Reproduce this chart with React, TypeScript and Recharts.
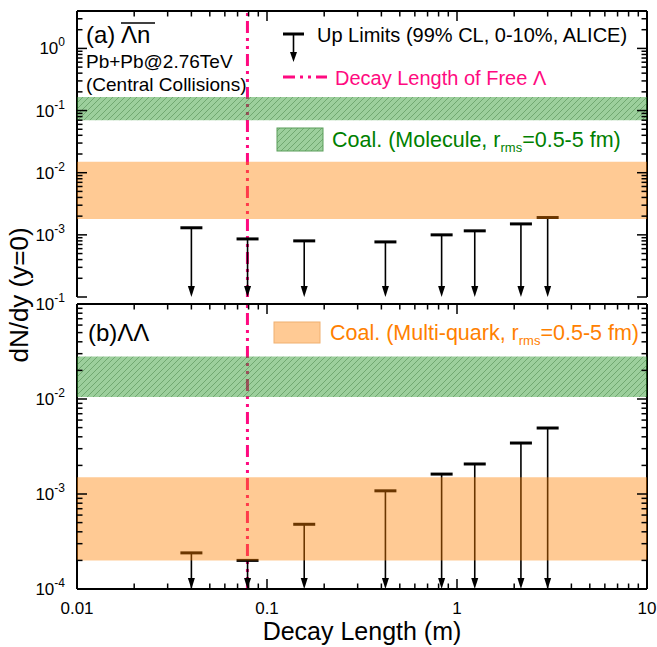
import React from 'react';
import {
  ComposedChart,
  Scatter,
  XAxis,
  YAxis,
  ReferenceArea,
  ReferenceLine,
} from 'recharts';

// decay lengths (m) where the ALICE upper limits were quoted
const decayLengths = [0.04, 0.079, 0.157, 0.42, 0.83, 1.24, 2.17, 3.0];
// 99% CL upper limits on dN/dy, anti-Lambda n (a) and Lambda Lambda (b)
const antiLambdaNLimits = [0.0013, 0.00086, 0.0008, 0.00077, 0.001, 0.00116, 0.0015, 0.0019];
const lambdaLambdaLimits = [0.00024, 0.0002, 0.00048, 0.00108, 0.00162, 0.00207, 0.00344, 0.00495];
const freeLambdaDecay = 0.0789;

// coalescence predictions, r_rms = 0.5-5 fm
const moleculeBandA = [0.07, 0.165];
const multiQuarkBandA = [0.0018, 0.015];
const moleculeBandB = [0.0105, 0.028];
const multiQuarkBandB = [0.0002, 0.0015];

const xDomain = [0.01, 10];
const yDomainA = [1e-4, 4];
const yDomainB = [1e-4, 0.1];
const xDecades = [0.01, 0.1, 1, 10];
const xTickLabels = ['0.01', '0.1', '1', '10'];
const yDecadesA = [1e-4, 1e-3, 1e-2, 1e-1, 1];
const yExponentsA = ['', '-3', '-2', '-1', '0'];
const yDecadesB = [1e-4, 1e-3, 1e-2, 1e-1];
const yExponentsB = ['-4', '-3', '-2', '-1'];

const FONT = "'Liberation Sans', Arial, Helvetica, sans-serif";
const PINK = '#ff0a80';
const GREEN_TEXT = '#008000';
const ORANGE = '#ff8000';
const axisStyle = { stroke: '#000', strokeWidth: 2 };

const logTicks = (decades: number[], max: number) => {
  const out: number[] = [];
  decades.forEach((d) => {
    for (let k = 1; k <= 9; k++) {
      const v = Number((k * d).toPrecision(6));
      if (v <= max * 1.0001) out.push(v);
    }
  });
  return out;
};

const xTicks = logTicks(xDecades, xDomain[1]);
const yTicksA = logTicks(yDecadesA, yDomainA[1]);
const yTicksB = logTicks(yDecadesB, yDomainB[1]);

const isDecade = (v: number) =>
  Math.abs(Math.log10(v) - Math.round(Math.log10(v))) < 1e-6;

const findLabel = (v: number, decades?: number[], labels?: string[]) => {
  if (!decades || !labels) return '';
  const i = decades.findIndex((d) => Math.abs(d - v) / d < 1e-6);
  return i >= 0 ? labels[i] : '';
};

type Side = 'left' | 'right' | 'top' | 'bottom';

const makeTick =
  (side: Side, decades?: number[], labels?: string[]) =>
  // eslint-disable-next-line
  (props: any) => {
    const { x, y, payload } = props;
    const v = payload.value;
    const len = isDecade(v) ? 10 : 5.5;
    let x2 = x;
    let y2 = y;
    if (side === 'left') x2 = x + len;
    if (side === 'right') x2 = x - len;
    if (side === 'top') y2 = y + len;
    if (side === 'bottom') y2 = y - len;
    const label = findLabel(v, decades, labels);
    return (
      <g>
        <line x1={x} y1={y} x2={x2} y2={y2} stroke="#000" strokeWidth={1.5} />
        {label && side === 'left' && (
          <text x={x - 12} y={y + 6} textAnchor="end" fontSize={17} fontFamily={FONT} fill="#000">
            10
            <tspan dy={-8} fontSize={12}>
              {label}
            </tspan>
          </text>
        )}
        {label && side === 'bottom' && (
          <text x={x} y={y + 25} textAnchor="middle" fontSize={17} fontFamily={FONT} fill="#000">
            {label}
          </text>
        )}
      </g>
    );
  };

// eslint-disable-next-line
const LimitCap = (props: any) => {
  const { cx, cy } = props;
  return <line x1={cx - 11} y1={cy} x2={cx + 11} y2={cy} stroke="#000" strokeWidth={3} />;
};

// eslint-disable-next-line
const LimitStem = (props: any) => {
  const { x1, y1, y2 } = props;
  return (
    <g>
      <line x1={x1} y1={y2} x2={x1} y2={y1 - 8} stroke="#000" strokeWidth={1.6} />
      <polygon points={`${x1 - 3.5},${y1 - 11} ${x1 + 3.5},${y1 - 11} ${x1},${y1}`} fill="#000" />
    </g>
  );
};

const NoMark = () => <g />;

const Panel = ({
  limits,
  yDomain,
  yTicks,
  yDecades,
  yExponents,
  moleculeBand,
  multiQuarkBand,
  height,
  margin,
  xAxisHeight,
  showXLabels,
}: {
  limits: number[];
  yDomain: number[];
  yTicks: number[];
  yDecades: number[];
  yExponents: string[];
  moleculeBand: number[];
  multiQuarkBand: number[];
  height: number;
  margin: { top: number; right: number; bottom: number; left: number };
  xAxisHeight: number;
  showXLabels: boolean;
}) => {
  const data = decayLengths.map((x, i) => ({ x, y: limits[i] }));
  return (
    <ComposedChart width={657} height={height} margin={margin} data={data}>
      <XAxis
        dataKey="x"
        type="number"
        scale="log"
        domain={xDomain}
        allowDataOverflow
        ticks={xTicks}
        interval={0}
        tickSize={0}
        tickMargin={0}
        tickLine={false}
        axisLine={axisStyle}
        height={xAxisHeight}
        tick={showXLabels ? makeTick('bottom', xDecades, xTickLabels) : makeTick('bottom')}
      />
      <XAxis
        xAxisId="top"
        orientation="top"
        dataKey="x"
        type="number"
        scale="log"
        domain={xDomain}
        allowDataOverflow
        ticks={xTicks}
        interval={0}
        tickSize={0}
        tickMargin={0}
        tickLine={false}
        axisLine={axisStyle}
        height={1}
        tick={makeTick('top')}
      />
      <YAxis
        type="number"
        scale="log"
        domain={yDomain}
        allowDataOverflow
        ticks={yTicks}
        interval={0}
        tickSize={0}
        tickMargin={0}
        tickLine={false}
        axisLine={axisStyle}
        width={77}
        tick={makeTick('left', yDecades, yExponents)}
      />
      <YAxis
        yAxisId="right"
        orientation="right"
        type="number"
        scale="log"
        domain={yDomain}
        allowDataOverflow
        ticks={yTicks}
        interval={0}
        tickSize={0}
        tickMargin={0}
        tickLine={false}
        axisLine={axisStyle}
        width={1}
        tick={makeTick('right')}
      />
      <ReferenceLine
        x={freeLambdaDecay}
        stroke={PINK}
        strokeWidth={3}
        strokeDasharray="12 5 3 5 3 5"
      />
      {data.map((d) => (
        <ReferenceLine
          key={d.x}
          segment={[
            { x: d.x, y: yDomain[0] },
            { x: d.x, y: d.y },
          ]}
          ifOverflow="visible"
          shape={LimitStem}
        />
      ))}
      <Scatter dataKey="y" isAnimationActive={false} shape={LimitCap} />
      <Scatter
        xAxisId="top"
        yAxisId="right"
        dataKey="y"
        isAnimationActive={false}
        shape={NoMark}
      />
      <ReferenceArea
        y1={moleculeBand[0]}
        y2={moleculeBand[1]}
        fill="url(#hatchGreen)"
        fillOpacity={1}
        stroke="none"
        zIndex={1500}
      />
      <ReferenceArea
        y1={multiQuarkBand[0]}
        y2={multiQuarkBand[1]}
        fill={ORANGE}
        fillOpacity={0.42}
        stroke="none"
        zIndex={1500}
      />
    </ComposedChart>
  );
};

const Annotations = () => (
  <svg
    width={657}
    height={647}
    style={{ position: 'absolute', left: 0, top: 0, pointerEvents: 'none' }}
    fontFamily={FONT}>
    <defs>
      <pattern id="hatchGreen" patternUnits="userSpaceOnUse" width={6} height={6}>
        <rect width={6} height={6} fill="#2f9a2f" fillOpacity={0.48} />
        <path
          d="M0,6 L6,0 M-1,1 L1,-1 M5,7 L7,5"
          stroke="#1f5f1f"
          strokeOpacity={0.45}
          strokeWidth={0.8}
        />
      </pattern>
    </defs>

    {/* panel (a) labels */}
    <text x={86} y={43} fontSize={24} fill="#000">
      (a)
    </text>
    <text x={121} y={43} fontSize={24} fill="#000">
      Λn
    </text>
    <line x1={121} y1={23} x2={155} y2={23} stroke="#000" strokeWidth={1.5} />
    <text x={86} y={68} fontSize={19} fill="#000">
      Pb+Pb@2.76TeV
    </text>
    <text x={86} y={91} fontSize={19} fill="#000">
      (Central Collisions)
    </text>

    {/* legend: upper limits */}
    <line x1={283} y1={34} x2={304} y2={34} stroke="#000" strokeWidth={3} />
    <line x1={293.5} y1={34} x2={293.5} y2={53} stroke="#000" strokeWidth={1.6} />
    <polygon points="290,52 297,52 293.5,62" fill="#000" />
    <text x={317} y={42} fontSize={20} fill="#000">
      Up Limits (99% CL, 0-10%, ALICE)
    </text>

    {/* legend: free Lambda decay length */}
    <line
      x1={283}
      y1={77}
      x2={327}
      y2={77}
      stroke={PINK}
      strokeWidth={3}
      strokeDasharray="12 5 3 5 3 5"
    />
    <text x={335} y={85} fontSize={20} fill={PINK}>
      Decay Length of Free Λ
    </text>

    {/* legend: molecule band */}
    <rect x={277} y={128} width={46} height={23} fill="url(#hatchGreen)" stroke="#5a9e5a" strokeWidth={1} />
    <text x={332} y={147} fontSize={21.5} fill={GREEN_TEXT}>
      Coal. (Molecule, r
      <tspan dy={5} fontSize={13}>
        rms
      </tspan>
      <tspan dy={-5}>=0.5-5 fm)</tspan>
    </text>

    {/* panel (b) labels */}
    <text x={88} y={341} fontSize={24} fill="#000">
      (b)ΛΛ
    </text>

    {/* legend: multi-quark band */}
    <rect x={274} y={322} width={46} height={21} fill={ORANGE} fillOpacity={0.42} stroke="#f0b070" strokeWidth={1} />
    <text x={330} y={340} fontSize={21.5} fill={ORANGE}>
      Coal. (Multi-quark, r
      <tspan dy={5} fontSize={13}>
        rms
      </tspan>
      <tspan dy={-5}>=0.5-5 fm)</tspan>
    </text>

    {/* axis titles */}
    <text x={362} y={640} fontSize={25} textAnchor="middle" fill="#000">
      Decay Length (m)
    </text>
    <text
      x={28}
      y={295}
      fontSize={26}
      textAnchor="middle"
      fill="#000"
      transform="rotate(-90 28 295)">
      dN/dy (y=0)
    </text>
  </svg>
);

const App = () => {
  return (
    <div
      style={{
        position: 'absolute',
        left: 0,
        top: 0,
        width: 657,
        height: 647,
        background: '#fff',
        fontFamily: FONT,
      }}>
      <div style={{ position: 'absolute', left: 0, top: 0 }}>
        <Panel
          limits={antiLambdaNLimits}
          yDomain={yDomainA}
          yTicks={yTicksA}
          yDecades={yDecadesA}
          yExponents={yExponentsA}
          moleculeBand={moleculeBandA}
          multiQuarkBand={multiQuarkBandA}
          height={300}
          margin={{ top: 10, right: 9, bottom: 3, left: 0 }}
          xAxisHeight={0}
          showXLabels={false}
        />
      </div>
      <div style={{ position: 'absolute', left: 0, top: 280 }}>
        <Panel
          limits={lambdaLambdaLimits}
          yDomain={yDomainB}
          yTicks={yTicksB}
          yDecades={yDecadesB}
          yExponents={yExponentsB}
          moleculeBand={moleculeBandB}
          multiQuarkBand={multiQuarkBandB}
          height={367}
          margin={{ top: 23, right: 9, bottom: 0, left: 0 }}
          xAxisHeight={58}
          showXLabels
        />
      </div>
      <Annotations />
    </div>
  );
};

export default App;
